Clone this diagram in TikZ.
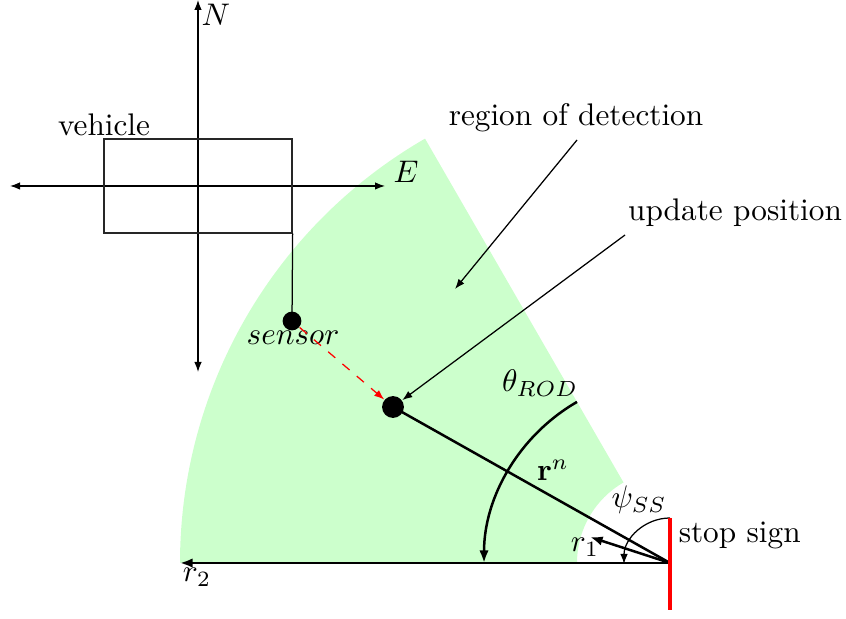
\documentclass[tikz,border=0pt]{standalone}
\usetikzlibrary{arrows.meta,calc}
\begin{document}
\begin{tikzpicture}[x=0.32pt,y=0.32pt,
  thinarrow/.style={-{Latex[length=3.2pt,width=2.4pt]},line width=0.4pt},
  dblarrow/.style={{Latex[length=3.2pt,width=2.4pt]}-{Latex[length=3.2pt,width=2.4pt]},line width=0.4pt},
  thickarrow/.style={-{Latex[length=4pt,width=3pt]},line width=0.8pt},
  dot/.style={circle,fill=black,inner sep=0pt,minimum size=#1},
  lbl/.style={inner sep=1pt}]
\useasboundingbox (0,0) rectangle (846,619);
% key points
\coordinate (C) at (670,56);
\coordinate (R2) at (180,56);
\coordinate (R1) at ($(C)+(162:84)$);
\coordinate (Itop) at ($(C)+(120:93)$);
\coordinate (SignTop) at (670,101);
\coordinate (SignBot) at (670,9);
% region of detection
\fill[green!20] (R2) arc[start angle=180,end angle=120,radius=490] -- (Itop)
  arc[start angle=120,end angle=180,radius=93] -- cycle;
% axes
\coordinate (Ntop) at (198,619);
\coordinate (Nbot) at (198,247);
\coordinate (Wend) at (10,433);
\coordinate (Eend) at (385,433);
\draw[dblarrow] (Nbot) -- (Ntop);
\draw[dblarrow] (Wend) -- (Eend);
\node[lbl] (Nlbl) at (216,604) {$N$};
\node[lbl] (Elbl) at (406,447) {$E$};
% vehicle
\node[draw=black!85,line width=0.4pt,minimum width=188*0.32pt,minimum height=94*0.32pt,inner sep=0pt] (veh) at (198,433) {};
\node[lbl] (vehlbl) at (104,494) {vehicle};
\node[dot=6pt] (sensor) at (292,298) {};
\draw[line width=0.4pt] (veh.south east) -- (sensor.center);
\node[lbl] (senslbl) at (293,281) {$sensor$};
% update position dot
\node[dot=7pt] (upd) at (393,212) {};
\draw[red,dashed,-{Latex[length=3.2pt,width=2.4pt]},line width=0.4pt] (sensor) -- (upd);
% vectors
\draw[line width=0.8pt] (C) -- (upd.center);
\draw[thickarrow] (C) -- (R2);
\draw[thickarrow] (C) -- (R1);
\draw[line width=0.8pt,-{Latex[length=4pt,width=3pt]}] ($(C)+(120:186)$) arc[start angle=120,end angle=180,radius=186];
\draw[thinarrow] (SignTop) arc[start angle=90,end angle=180,radius=46];
\draw[red,line width=1.2pt] (SignTop) -- (SignBot);
% labels
\node[lbl] (r2lbl) at (197,42) {$r_2$};
\node[lbl] (r1lbl) at (585,72) {$r_1$};
\node[lbl] (rnlbl) at (553,149) {$\mathbf{r}^n$};
\node[lbl] (thlbl) at (540,236) {$\theta_{ROD}$};
\node[lbl] (psilbl) at (639,119) {$\psi_{SS}$};
\node[lbl,anchor=west] (stoplbl) at (675,84) {stop sign};
\node[lbl] (roblbl) at (576,501) {region of detection};
\node[lbl] (updlbl) at (735,406) {update position};
\coordinate (rodstart) at (577,479);
\coordinate (rodtip) at (455,330);
\draw[thinarrow] (rodstart) -- (rodtip);
\coordinate (updstart) at (625,384);
\draw[thinarrow] (updstart) -- (upd);
\end{tikzpicture}
\end{document}
